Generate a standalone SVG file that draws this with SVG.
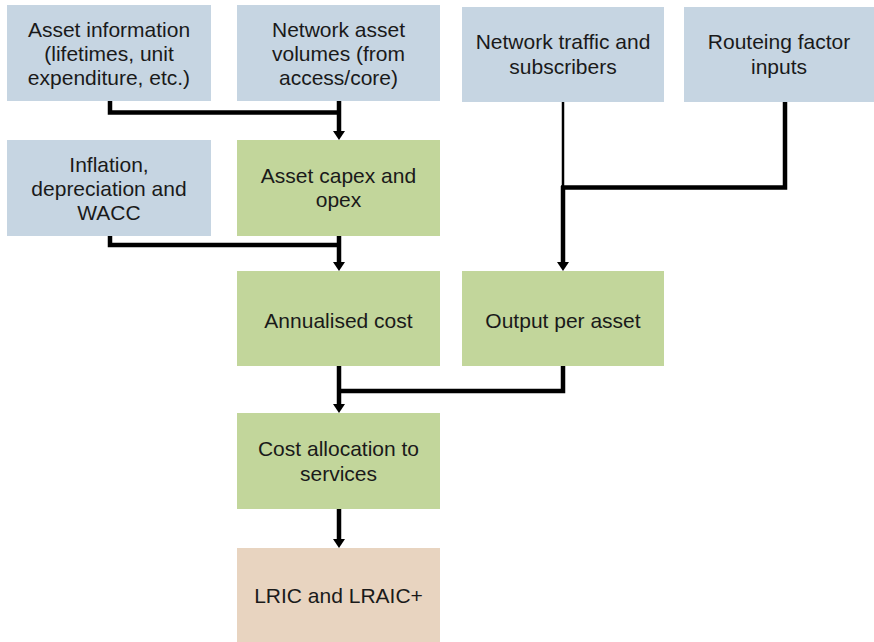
<svg xmlns="http://www.w3.org/2000/svg" width="874" height="642" viewBox="0 0 874 642">
<style>
.in{fill:#C6D5E2}
.pr{fill:#C2D69B}
.out{fill:#E8D4C0}
text{font-family:"Liberation Sans",Arial,sans-serif;font-size:21px;fill:#1a1a1a;text-anchor:middle}
.c{fill:none;stroke:#000;stroke-width:4.5;stroke-linejoin:miter}
.thin{fill:none;stroke:#000;stroke-width:2.5}
</style>
<defs>
<marker id="ah" markerUnits="userSpaceOnUse" markerWidth="12" markerHeight="14" viewBox="0 -7 10 14" refX="0" refY="0" orient="auto">
<path d="M0,-6 L9,0 L0,6 z" fill="#000"/>
</marker>
</defs>
<rect width="874" height="642" fill="#fff"/>
<g id="n1"><rect class="in" x="7" y="5" width="204" height="96"/>
<text x="109" y="37">Asset information</text><text x="109" y="61">(lifetimes, unit</text><text x="109" y="85">expenditure, etc.)</text></g>
<g id="n2"><rect class="in" x="237" y="5" width="203" height="96"/>
<text x="338.5" y="37">Network asset</text><text x="338.5" y="61">volumes (from</text><text x="338.5" y="85">access/core)</text></g>
<g id="n3"><rect class="in" x="462" y="7" width="202" height="95"/>
<text x="563" y="49">Network traffic and</text><text x="563" y="74">subscribers</text></g>
<g id="n4"><rect class="in" x="684" y="7" width="190" height="95"/>
<text x="779" y="49">Routeing factor</text><text x="779" y="74">inputs</text></g>
<g id="n5"><rect class="in" x="7" y="140" width="204" height="96"/>
<text x="109" y="172">Inflation,</text><text x="109" y="196">depreciation and</text><text x="109" y="220">WACC</text></g>
<g id="n6"><rect class="pr" x="237" y="140" width="203" height="96"/>
<text x="338.5" y="183">Asset capex and</text><text x="338.5" y="207">opex</text></g>
<g id="n7"><rect class="pr" x="237" y="271" width="203" height="95"/>
<text x="338.5" y="328">Annualised cost</text></g>
<g id="n8"><rect class="pr" x="462" y="271" width="202" height="95"/>
<text x="563" y="328">Output per asset</text></g>
<g id="n9"><rect class="pr" x="237" y="413" width="203" height="96"/>
<text x="338.5" y="456">Cost allocation to</text><text x="338.5" y="481">services</text></g>
<g id="n10"><rect class="out" x="237" y="548" width="203" height="96"/>
<text x="338.5" y="603">LRIC and LRAIC+</text></g>
<g id="connectors">
<path class="c" d="M110,101 V112.5 H339"/>
<path class="c" d="M339,101 V131" marker-end="url(#ah)"/>
<path class="c" d="M110,236 V245 H339"/>
<path class="c" d="M339,236 V262" marker-end="url(#ah)"/>
<path class="thin" d="M563,102 V188"/>
<path class="c" d="M785,102 V187.5 H561"/>
<path class="c" d="M563,186 V262" marker-end="url(#ah)"/>
<path class="c" d="M563,366 V391 H339"/>
<path class="c" d="M339,366 V404" marker-end="url(#ah)"/>
<path class="c" d="M339,509 V539" marker-end="url(#ah)"/>
</g>
</svg>
